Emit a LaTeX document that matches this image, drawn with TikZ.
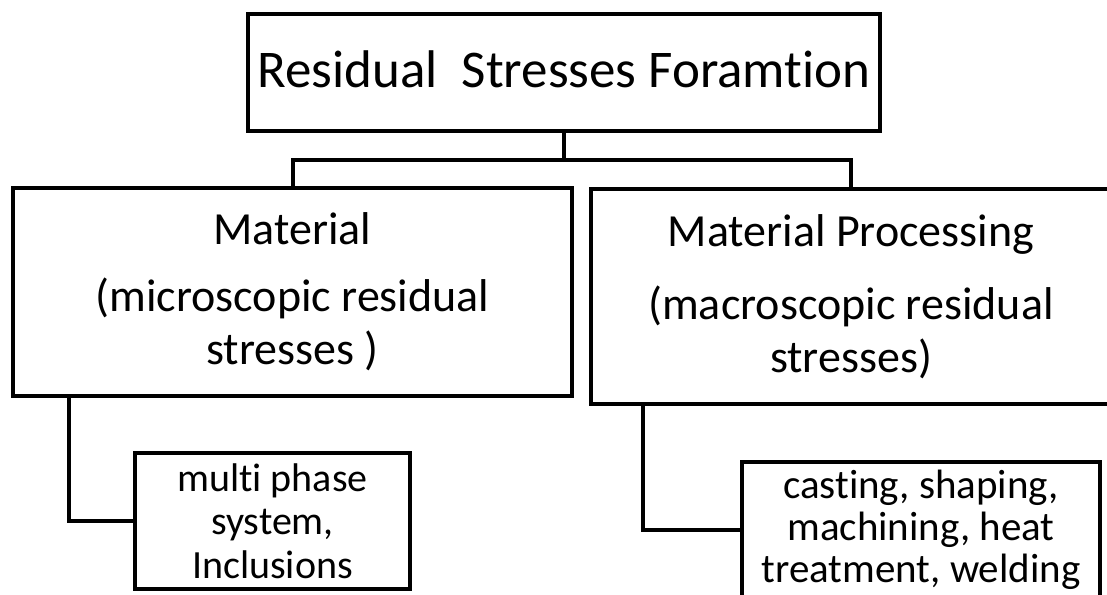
\documentclass[tikz,border=0pt]{standalone}
\usepackage{fontspec}
\setmainfont{Carlito}[Ligatures=NoCommon]
\newcommand\nolig{\kern0pt}

\begin{document}
\begin{tikzpicture}[x=1pt,y=-1pt,line width=4pt,
  box/.style={draw,rectangle,inner sep=0pt,outer sep=0pt,align=center},
  bigbox/.style={box,font=\fontsize{46}{53}\selectfont},
  smallbox/.style={box,font=\fontsize{40}{43.5}\selectfont}]
\useasboundingbox (0,0) rectangle (1107,594);
\node[box,minimum width=632pt,minimum height=117pt,font=\fontsize{53}{60}\selectfont] (top) at (564,72.5) {\raisebox{3pt}[\height][\depth]{Residual~~Stresses Foramt\nolig ion}};
\node[bigbox,minimum width=559pt,minimum height=208pt] (mat) at (292.5,292) {Material\\[14pt](microscopic residual\\stresses )};
\node[bigbox,minimum width=520pt,minimum height=215pt] (proc) at (851,296.5) {Material Processing\\[20pt](macroscopic residual\\stresses)};
\node[smallbox,minimum width=275pt,minimum height=136pt] (multi) at (272.5,521) {mult\nolig i phase\\system,\\Inclusions};
\node[smallbox,minimum width=358pt,minimum height=136pt,font=\fontsize{41}{42}\selectfont] (cast) at (921,530) {cast\nolig ing, shaping,\\machining, heat\\treatment, welding};
\coordinate (bus) at (564,160);
\draw (top.south) -- (bus);
\draw (mat.north) |- (bus) -| (proc.north);
\draw ([xshift=56pt]mat.south west) |- (multi.west);
\draw ([xshift=52pt]proc.south west) |- (cast.west);
\end{tikzpicture}
\end{document}
